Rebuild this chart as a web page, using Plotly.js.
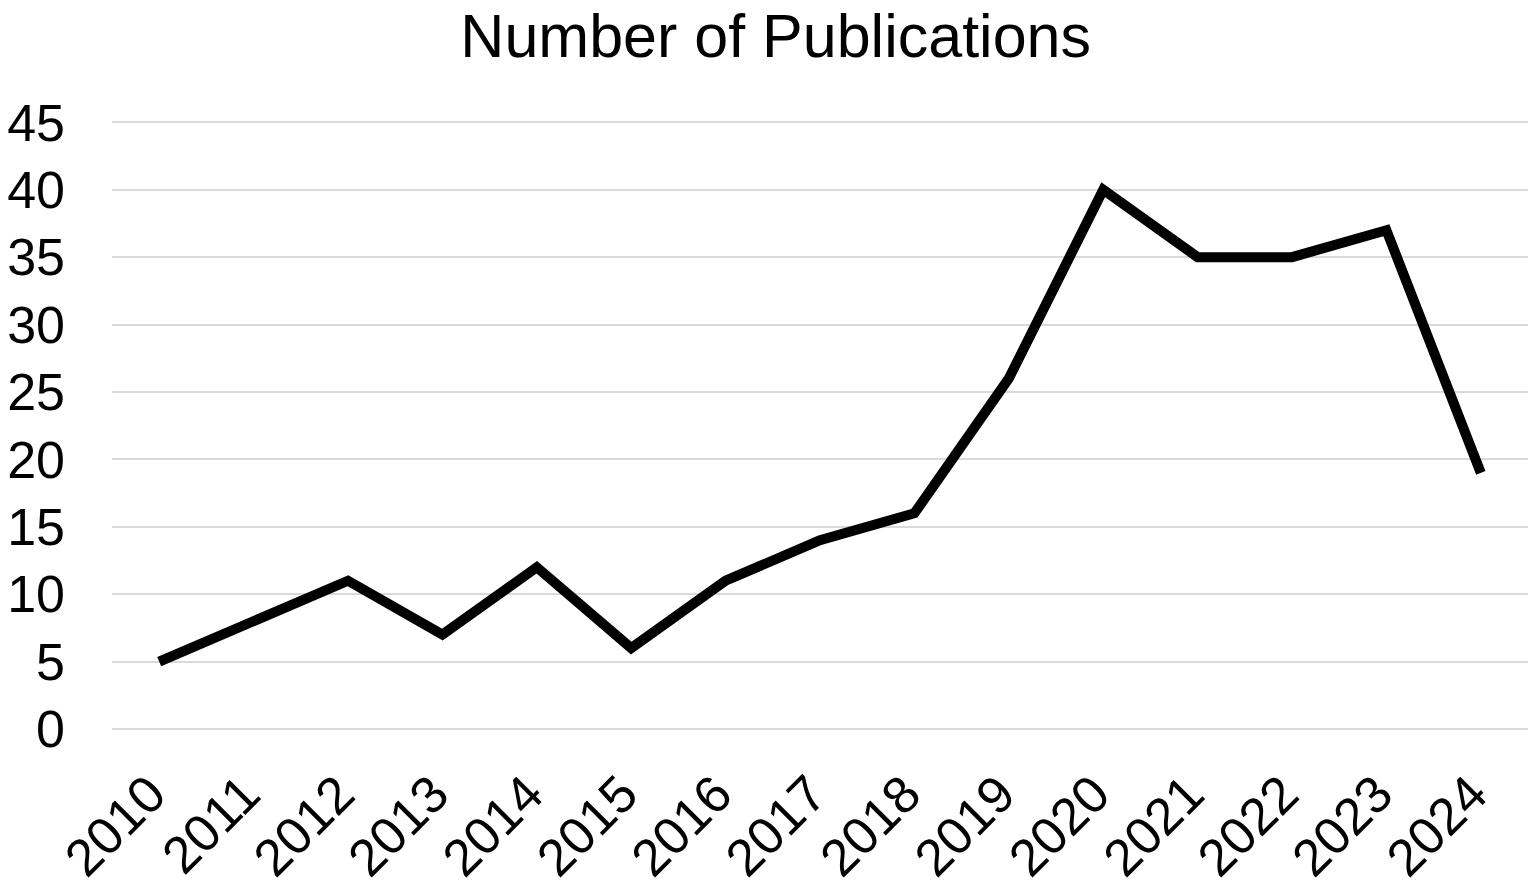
<!DOCTYPE html>
<html>
<head>
<meta charset="utf-8">
<script src="https://cdn.plot.ly/plotly-3.0.1.min.js"></script>
<style>html,body{margin:0;padding:0;background:#fff;}#chart{width:1536px;height:889px;}</style>
</head>
<body>
<div id="chart"></div>
<script>
const years = ['2010','2011','2012','2013','2014','2015','2016','2017','2018','2019','2020','2021','2022','2023','2024'];
const publications = [5, 8, 11, 7, 12, 6, 11, 14, 16, 26, 40, 35, 35, 37, 19];
const yTicks = [0, 5, 10, 15, 20, 25, 30, 35, 40, 45];
const chartTitle = 'Number of Publications';

const font = '"Liberation Sans", Arial, sans-serif';

Plotly.newPlot('chart', [{
  x: years,
  y: publications,
  type: 'scatter',
  mode: 'lines',
  line: {color: '#000000', width: 10},
  hoverinfo: 'x+y'
}], {
  width: 1536,
  height: 889,
  margin: {l: 112, r: 8, t: 121, b: 160},
  paper_bgcolor: '#ffffff',
  plot_bgcolor: '#ffffff',
  showlegend: false,
  title: {
    text: chartTitle,
    font: {family: font, size: 61, color: '#000000'},
    x: 0.505, xref: 'container', xanchor: 'center',
    y: 0.936, yref: 'container', yanchor: 'bottom'
  },
  xaxis: {
    type: 'category',
    range: [-0.5, 14.5],
    tickangle: -45,
    tickfont: {family: font, size: 52, color: '#000000'},
    showgrid: false,
    zeroline: false,
    showline: false,
    ticks: '',
    ticklabelstandoff: 23,
    ticklabelshift: -9,
    fixedrange: true
  },
  yaxis: {
    range: [0, 45.1],
    tickvals: yTicks,
    ticktext: yTicks.map(String),
    tickfont: {family: font, size: 52, color: '#000000'},
    showgrid: true,
    gridcolor: '#d9d9d9',
    gridwidth: 2,
    zeroline: true,
    zerolinecolor: '#d9d9d9',
    zerolinewidth: 2,
    showline: false,
    ticks: '',
    ticklabelstandoff: 46,
    fixedrange: true
  }
}, {displayModeBar: false, staticPlot: true});
</script>
</body>
</html>
